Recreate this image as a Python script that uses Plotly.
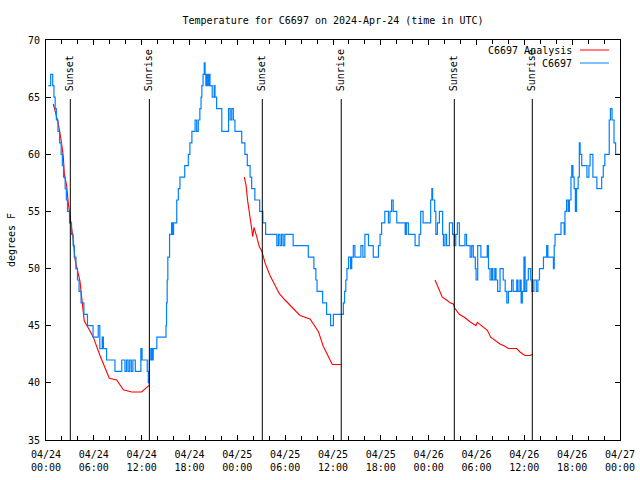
import pandas as pd
import plotly.graph_objects as go

START = pd.Timestamp("2024-04-24 00:00")

# Observed station temperature (hours since 2024-04-24 00:00 UTC, degrees F)
obs_hours = [0.29, 0.59, 0.84, 1.0, 1.15, 1.3, 1.5, 1.7, 1.9, 2.05, 2.2, 2.4, 2.55, 2.7, 2.95,
             3.2, 3.4, 3.55, 3.75, 3.95, 4.15, 4.4, 4.75, 5.2, 5.9, 6.55, 6.75, 7.05, 7.2, 7.6,
             8.65, 9.5, 9.9, 10.1, 10.3, 10.5, 10.7, 10.9, 11.2, 11.9, 12.05, 12.7, 12.83, 12.96,
             13.15, 13.3, 13.45, 13.9, 15.05, 15.12, 15.2, 15.28, 15.5, 15.75, 15.9, 16.0, 16.4,
             16.6, 16.8, 17.4, 17.85, 18.05, 18.3, 18.7, 18.9, 19.1, 19.3, 19.45, 19.55, 19.7,
             19.85, 19.95, 20.05, 20.2, 20.35, 20.45, 20.57, 20.85, 21.1, 21.2, 21.4, 22.05, 22.9,
             23.1, 23.3, 23.5, 23.7, 24.55, 24.95, 25.25, 25.6, 25.8, 26.2, 26.8, 27.2, 27.55,
             28.95, 29.15, 29.35, 29.55, 29.75, 29.95, 31.0, 32.9, 33.6, 33.85, 34.0, 34.7, 35.2,
             35.7, 36.05, 37.3, 37.45, 37.6, 37.75, 37.95, 38.2, 38.35, 38.55, 38.75, 39.5, 39.75,
             40.0, 40.45, 41.05, 41.7, 41.9, 42.1, 42.5, 42.95, 43.15, 43.35, 43.55, 44.0, 45.05,
             45.2, 45.45, 46.3, 46.8, 47.0, 47.3, 48.25, 48.4, 48.5, 48.75, 48.9, 49.1, 49.35,
             49.75, 49.85, 50.05, 50.25, 50.6, 51.0, 51.2, 51.4, 51.6, 51.85, 52.55, 52.75, 53.2,
             53.4, 53.6, 53.85, 53.95, 54.15, 54.55, 55.35, 55.5, 55.7, 55.9, 56.05, 56.3, 56.45,
             56.65, 56.95, 57.35, 57.6, 57.8, 58.0, 58.4, 58.6, 59.05, 59.2, 59.45, 59.6, 59.75,
             59.95, 60.1, 60.3, 60.5, 60.8, 60.95, 61.2, 61.5, 61.7, 61.9, 62.4, 62.8, 62.95,
             63.65, 63.75, 63.85, 64.6, 65.0, 65.1, 65.3, 65.5, 65.65, 65.85, 65.95, 66.1, 66.25,
             66.4, 66.55, 66.75, 66.9, 67.0, 67.2, 67.85, 68.1, 68.25, 68.6, 69.1, 69.7, 69.9,
             70.1, 70.65, 70.8, 71.0, 71.25, 71.45, 72.0]
obs_temps = [66, 67, 66, 65, 64, 63, 62, 61, 60, 59, 58, 57, 56, 55, 54,
             53, 52, 51, 50, 49, 48, 47, 46, 45, 44, 45, 43, 44, 43, 42,
             41, 42, 41, 42, 41, 42, 41, 42, 41, 43, 42, 41, 40, 42,
             43, 42, 43, 44, 45, 47, 49, 51, 53, 54, 53, 54, 56,
             57, 58, 59, 60, 61, 62, 63, 62, 63, 64, 65, 66, 67,
             68, 67, 66, 67, 66, 67, 66, 65, 66, 65, 64, 62, 64,
             63, 64, 63, 62, 61, 60, 59, 58, 57, 56, 55, 54, 53,
             52, 53, 52, 53, 52, 53, 52, 51, 50, 49, 48, 47, 46,
             45, 46, 47, 48, 49, 50, 51, 50, 51, 52, 51, 52, 51,
             53, 52, 51, 52, 53, 54, 55, 54, 55, 56, 55, 54, 53,
             54, 53, 52, 53, 55, 54, 56, 57, 56, 55, 53, 54, 55,
             53, 52, 53, 52, 54, 53, 52, 53, 54, 52, 53, 52, 51,
             52, 51, 50, 49, 52, 51, 52, 50, 49, 50, 49, 50, 49,
             48, 50, 49, 48, 47, 48, 49, 48, 49, 48, 49, 47, 48,
             51, 48, 49, 50, 49, 48, 49, 48, 49, 50, 51, 52, 51,
             50, 52, 53, 54, 53, 55, 56, 55, 56, 58, 59, 58, 57,
             55, 57, 58, 61, 60, 59, 58, 59, 60, 58, 57, 58, 59,
             60, 63, 64, 63, 61, 60, 60]

# Analysis temperature (three separate overnight segments; None = gap)
ana_hours = [0.92, 1.25, 1.54, 1.88, 2.17, 2.30, 2.60, 2.80, 3.01, 3.42, 3.64, 4.05, 4.26, 4.55,
             4.80, 5.31, 5.93, 6.77, 7.40, 7.94, 8.87, 9.70, 10.75, 12.00, 12.96, 18.0,
             24.87, 25.09, 25.30, 25.59, 25.80, 25.93, 26.09, 26.43, 26.76, 27.09, 27.47, 28.10,
             28.73, 29.27, 29.98, 31.02, 31.86, 33.12, 33.74, 34.16, 34.78, 35.41, 35.91, 36.47,
             37.04, 43.0,
             48.80, 49.21, 49.71, 50.26, 50.68, 51.09, 51.30, 51.84, 52.56, 53.18, 53.94, 54.10,
             54.85, 55.36, 55.78, 56.32, 56.95, 57.58, 57.99, 59.04, 59.46, 60.08, 60.71, 61.05]
ana_temps = [64.4, 63.4, 62.7, 61.3, 59.8, 58.3, 57.2, 55.7, 54.6, 52.5, 50.8, 49.7, 48.9, 47.0,
             45.4, 44.8, 44.0, 42.4, 41.4, 40.4, 40.25, 39.4, 39.2, 39.2, 39.8, None,
             58.0, 57.3, 55.9, 54.7, 53.5, 52.8, 53.6, 52.8, 51.9, 51.5, 50.5, 49.4,
             48.6, 47.8, 47.25, 46.5, 45.9, 45.6, 44.9, 44.5, 43.2, 42.3, 41.6, 41.6,
             41.6, None,
             49.0, 48.3, 47.5, 47.25, 47.0, 46.9, 46.5, 46.0, 45.7, 45.35, 45.0, 45.3,
             44.9, 44.6, 44.0, 43.7, 43.4, 43.2, 43.0, 43.0, 42.7, 42.4, 42.4, 42.5]

sun_event_times = ["2024-04-24 03:03", "2024-04-24 12:58", "2024-04-25 03:08",
                   "2024-04-25 13:02", "2024-04-26 03:13", "2024-04-26 13:00"]
sun_event_labels = ["Sunset", "Sunrise", "Sunset", "Sunrise", "Sunset", "Sunrise"]

series_names = ["C6697 Analysis", "C6697"]
series_colors = ["#ff0000", "#0080ff"]

FONT = "DejaVu Sans Mono"

obs_x = [START + pd.Timedelta(hours=h) for h in obs_hours]
ana_x = [START + pd.Timedelta(hours=h) for h in ana_hours]

fig = go.Figure()
fig.add_trace(go.Scatter(x=ana_x, y=ana_temps, mode="lines", name=series_names[0],
                         line=dict(color=series_colors[0], width=1.1), connectgaps=False))
fig.add_trace(go.Scatter(x=obs_x, y=obs_temps, mode="lines", name=series_names[1],
                         line=dict(color=series_colors[1], width=1.2, shape="hv")))

LINE_TOP = 0.8525
for t, lab in zip(sun_event_times, sun_event_labels):
    fig.add_shape(type="line", xref="x", yref="paper", x0=t, x1=t, y0=0, y1=LINE_TOP,
                  line=dict(color="black", width=1))
    fig.add_annotation(x=t, xref="x", y=0.8675, yref="paper", text=lab, textangle=-90,
                       showarrow=False, xanchor="center", yanchor="bottom",
                       font=dict(family=FONT, size=10, color="black"))

# gnuplot-style legend (text left of line sample)
legend_y = [0.975, 0.9425]
for name, col, ly in zip(series_names, series_colors, legend_y):
    fig.add_annotation(x=0.9199, xref="paper", y=ly, yref="paper", text=name,
                       showarrow=False, xanchor="right", yanchor="middle",
                       font=dict(family=FONT, size=10, color="black"))
    fig.add_shape(type="line", xref="paper", yref="paper", x0=0.9303, x1=0.9808,
                  y0=ly, y1=ly, line=dict(color=col, width=1))

fig.update_layout(
    width=640, height=480,
    margin=dict(l=46, r=20, t=40, b=40, autoexpand=False),
    paper_bgcolor="white", plot_bgcolor="white",
    showlegend=False,
    font=dict(family=FONT, size=10, color="black"),
    title=dict(text="Temperature for C6697 on 2024-Apr-24 (time in UTC)",
               x=0.5, xref="paper", xanchor="center",
               y=1 - 20 / 480, yref="container", yanchor="middle",
               font=dict(family=FONT, size=10, color="black")),
)
fig.update_xaxes(
    type="date", range=["2024-04-24 00:00", "2024-04-27 00:00"],
    dtick=6 * 3600 * 1000, tick0="2024-04-24 00:00", tickformat="%m/%d<br>%H:%M",
    ticks="inside", ticklen=5, tickcolor="black", tickwidth=1,
    minor=dict(dtick=2 * 3600 * 1000, ticks="inside", ticklen=4, tickcolor="black"),
    showline=True, linecolor="black", linewidth=1, mirror="ticks",
    showgrid=False, zeroline=False, automargin=False, ticklabelstandoff=5,
    tickfont=dict(family=FONT, size=10, color="black"),
)
fig.update_yaxes(
    range=[35, 70], dtick=5, tick0=35,
    ticks="inside", ticklen=5, tickcolor="black", tickwidth=1,
    showline=True, linecolor="black", linewidth=1, mirror="ticks",
    showgrid=False, zeroline=False, ticklabelstandoff=3,
    tickfont=dict(family=FONT, size=10, color="black"),
    title=dict(text="degrees F", standoff=10, font=dict(family=FONT, size=10, color="black")),
    automargin=False,
)

fig.write_html("out.html", config={"displayModeBar": False},
               post_script="document.body.style.margin='0';")
